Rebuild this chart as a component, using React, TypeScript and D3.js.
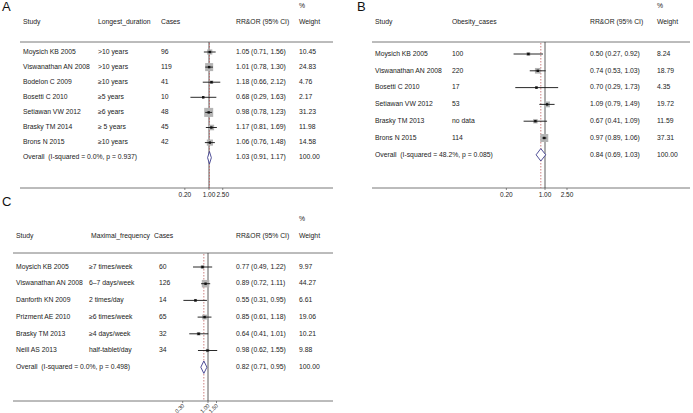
import React from "react";
import * as d3 from "d3";

// ---------- Data ----------
const aStudies = ["Moysich KB 2005", "Viswanathan AN 2008", "Bodelon C 2009", "Bosetti C 2010", "Setiawan VW 2012", "Brasky TM 2014", "Brons N 2015"];
const aDuration = [">10 years", ">10 years", "≥10 years", "≥5 years", "≥6 years", "≥ 5 years", "≥10 years"];
const aCases = ["96", "119", "41", "10", "48", "45", "42"];
const aRR = [1.05, 1.01, 1.18, 0.68, 0.98, 1.17, 1.06];
const aLo = [0.71, 0.78, 0.66, 0.29, 0.78, 0.81, 0.76];
const aHi = [1.56, 1.30, 2.12, 1.63, 1.23, 1.69, 1.48];
const aW = [10.45, 24.83, 4.76, 2.17, 31.23, 11.98, 14.58];
const aOverall = [1.03, 0.91, 1.17];
const aHet = "Overall  (I-squared = 0.0%, p = 0.937)";
const aTicks = [0.2, 1.0, 2.5];

const bStudies = ["Moysich KB 2005", "Viswanathan AN 2008", "Bosetti C 2010", "Setiawan VW 2012", "Brasky TM 2013", "Brons N 2015"];
const bCases = ["100", "220", "17", "53", "no data", "114"];
const bRR = [0.50, 0.74, 0.70, 1.09, 0.67, 0.97];
const bLo = [0.27, 0.53, 0.29, 0.79, 0.41, 0.89];
const bHi = [0.92, 1.03, 1.73, 1.49, 1.09, 1.06];
const bW = [8.24, 18.79, 4.35, 19.72, 11.59, 37.31];
const bOverall = [0.84, 0.69, 1.03];
const bHet = "Overall  (I-squared = 48.2%, p = 0.085)";
const bTicks = [0.2, 1.0, 2.5];

const cStudies = ["Moysich KB 2005", "Viswanathan AN 2008", "Danforth KN 2009", "Prizment AE 2010", "Brasky TM 2013", "Neill AS 2013"];
const cFreq = ["≥7 times/week", "6–7 days/week", "2 times/day", "≥6 times/week", "≥4 days/week", "half-tablet/day"];
const cCases = ["60", "126", "14", "65", "32", "34"];
const cRR = [0.77, 0.89, 0.55, 0.85, 0.64, 0.98];
const cLo = [0.49, 0.72, 0.31, 0.61, 0.41, 0.62];
const cHi = [1.22, 1.11, 0.95, 1.18, 1.01, 1.55];
const cW = [9.97, 44.27, 6.61, 19.06, 10.21, 9.88];
const cOverall = [0.82, 0.71, 0.95];
const cHet = "Overall  (I-squared = 0.0%, p = 0.498)";
const cTicks = [0.3, 1.0, 1.5];

const FONT = "'Liberation Sans', Arial, Helvetica, sans-serif";
const TXT = "#222";
const fmt = d3.format(".2f");

type Col = { header: string; x: number; values: string[]; valueX?: number };

function Panel(props: {
  label: string; labelX: number; labelY: number;
  cols: Col[]; rrX: number; wX: number; headerY: number; pctY: number;
  lineY: number; lineX0: number; lineX1: number;
  rowY0: number; rowStep: number; axisY: number;
  studies: string[]; rr: number[]; lo: number[]; hi: number[]; w: number[];
  overall: number[]; het: string; ticks: number[];
  domain: [number, number]; range: [number, number]; maxBox: number; rotate?: boolean;
}) {
  const p = props;
  const x = d3.scaleLog().domain(p.domain).range(p.range);
  const n = p.studies.length;
  const y = (i: number) => p.rowY0 + i * p.rowStep;
  const wMax = d3.max(p.w) as number;
  const side = d3.scaleSqrt().domain([0, wMax]).range([0, p.maxBox]);
  const oy = y(n);
  const [om, olo, ohi] = p.overall;
  const dh = 6.2;
  const diamond = d3.line()([[x(olo), oy], [x(om), oy - dh], [x(ohi), oy], [x(om), oy + dh]]) + "Z";
  const t = { fontFamily: FONT, fontSize: 6.8, fill: TXT } as any;
  return (
    <g>
      <text x={p.labelX} y={p.labelY} style={{ fontFamily: FONT, fontSize: 13, fill: "#111" }} dominantBaseline="middle">{p.label}</text>
      <text x={p.wX} y={p.pctY} {...t} dominantBaseline="middle">%</text>
      {p.cols.map((c, i) => (
        <text key={"h" + i} x={c.x} y={p.headerY} {...t} dominantBaseline="middle">{c.header}</text>
      ))}
      <text x={p.rrX} y={p.headerY} {...t} dominantBaseline="middle">RR&OR (95% CI)</text>
      <text x={p.wX} y={p.headerY} {...t} dominantBaseline="middle">Weight</text>
      <line x1={p.lineX0} x2={p.lineX1} y1={p.lineY} y2={p.lineY} stroke="#555" strokeWidth={0.8} />
      <line x1={p.lineX0} x2={p.lineX1} y1={p.axisY} y2={p.axisY} stroke="#555" strokeWidth={0.8} />
      {/* null line */}
      <line x1={x(1)} x2={x(1)} y1={p.lineY} y2={p.axisY} stroke="#333" strokeWidth={0.8} />
      {/* overall dashed line */}
      <line x1={x(om)} x2={x(om)} y1={p.lineY + 1} y2={p.axisY} stroke="#c06060" strokeWidth={0.8} strokeDasharray="1.5,1.5" />
      {p.studies.map((s, i) => {
        const b = side(p.w[i]);
        return (
          <g key={"r" + i}>
            <text x={p.cols[0].valueX ?? p.cols[0].x} y={y(i)} {...t} dominantBaseline="middle">{s}</text>
            {p.cols.slice(1).map((c, j) => (
              <text key={j} x={c.valueX ?? c.x} y={y(i)} {...t} dominantBaseline="middle">{c.values[i]}</text>
            ))}
            <text x={p.rrX} y={y(i)} {...t} dominantBaseline="middle">{`${fmt(p.rr[i])} (${fmt(p.lo[i])}, ${fmt(p.hi[i])})`}</text>
            <text x={p.wX} y={y(i)} {...t} dominantBaseline="middle">{fmt(p.w[i])}</text>
            <rect x={x(p.rr[i]) - b / 2} y={y(i) - b / 2} width={b} height={b} fill="#b4b4b4" />
            <line x1={x(p.lo[i])} x2={x(p.hi[i])} y1={y(i)} y2={y(i)} stroke="#111" strokeWidth={0.9} />
            <rect x={x(p.rr[i]) - 1.2} y={y(i) - 1.2} width={2.4} height={2.4} fill="#111" />
          </g>
        );
      })}
      <text x={p.cols[0].valueX ?? p.cols[0].x} y={oy} {...t} dominantBaseline="middle" style={{ whiteSpace: "pre" }}>{p.het}</text>
      <text x={p.rrX} y={oy} {...t} dominantBaseline="middle">{`${fmt(om)} (${fmt(olo)}, ${fmt(ohi)})`}</text>
      <text x={p.wX} y={oy} {...t} dominantBaseline="middle">100.00</text>
      <path d={diamond} fill="#ffffff" stroke="#3c3c8c" strokeWidth={0.9} />
      {p.ticks.map((v, i) => (
        <g key={"t" + i} transform={`translate(${x(v)},${p.axisY})`}>
          <line y1={0} y2={2} stroke="#555" strokeWidth={0.7} />
          {p.rotate ? (
            <text transform="translate(1,4) rotate(-45)" textAnchor="end" dominantBaseline="middle" style={{ fontFamily: FONT, fontSize: 5.5, fill: TXT }}>{fmt(v)}</text>
          ) : (
            <text y={7.5} textAnchor="middle" dominantBaseline="middle" style={{ fontFamily: FONT, fontSize: 6.5, fill: TXT }}>{fmt(v)}</text>
          )}
        </g>
      ))}
    </g>
  );
}

export default function App() {
  return (
    <svg width={693} height={413} style={{ position: "absolute", left: 0, top: 0, background: "#fff" }}>
      <rect width={693} height={413} fill="#fff" />
      <Panel label="A" labelX={2} labelY={8}
        cols={[
          { header: "Study", x: 23, values: aStudies },
          { header: "Longest_duration", x: 98, values: aDuration },
          { header: "Cases", x: 161, values: aCases },
        ]}
        rrX={236} wX={299} headerY={22} pctY={6} lineY={42} lineX0={20} lineX1={333}
        rowY0={52} rowStep={15.1} axisY={188}
        studies={aStudies} rr={aRR} lo={aLo} hi={aHi} w={aW} overall={aOverall} het={aHet} ticks={aTicks}
        domain={[0.2, 2.5]} range={[209 + 15 * Math.log(0.2), 209 + 15 * Math.log(2.5)]} maxBox={9} />
      <Panel label="B" labelX={357} labelY={8}
        cols={[
          { header: "Study", x: 375, values: bStudies },
          { header: "Obesity_cases", x: 452, values: bCases },
        ]}
        rrX={590} wX={657} headerY={22} pctY={6} lineY={42} lineX0={372} lineX1={690}
        rowY0={54} rowStep={16.8} axisY={188}
        studies={bStudies} rr={bRR} lo={bLo} hi={bHi} w={bW} overall={bOverall} het={bHet} ticks={bTicks}
        domain={[0.2, 2.5]} range={[545 + 24 * Math.log(0.2), 545 + 24 * Math.log(2.5)]} maxBox={8} />
      <Panel label="C" labelX={2} labelY={203}
        cols={[
          { header: "Study", x: 16, values: cStudies },
          { header: "Maximal_frequency", x: 91, values: cFreq, valueX: 89 },
          { header: "Cases", x: 154, values: cCases, valueX: 159 },
        ]}
        rrX={236} wX={299} headerY={236} pctY={219} lineY={253} lineX0={13} lineX1={333}
        rowY0={267} rowStep={16.7} axisY={401}
        studies={cStudies} rr={cRR} lo={cLo} hi={cHi} w={cW} overall={cOverall} het={cHet} ticks={cTicks}
        domain={[0.3, 1.5]} range={[208 + 21 * Math.log(0.3), 208 + 21 * Math.log(1.5)]} maxBox={7.5} rotate />
    </svg>
  );
}
